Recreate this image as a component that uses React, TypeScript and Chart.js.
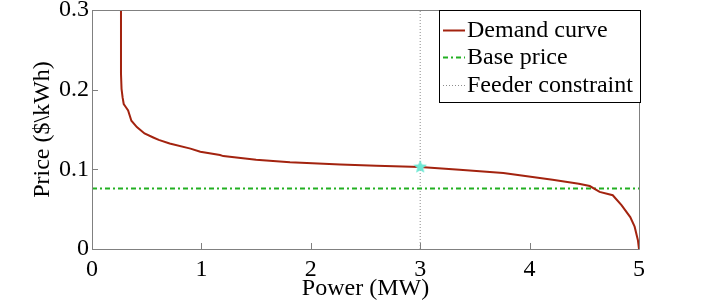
import React, { useEffect, useRef } from "react";
import { Chart, registerables } from "chart.js";

Chart.register(...registerables);

const demandX = [0.265, 0.265, 0.27, 0.28, 0.29, 0.31, 0.33, 0.36, 0.41, 0.48, 0.56, 0.61, 0.71, 0.9, 0.99, 1.17, 1.2, 1.5, 1.81, 2.27, 2.6, 3.0, 3.36, 3.76, 3.91, 4.21, 4.45, 4.55, 4.64, 4.76, 4.84, 4.92, 4.96, 4.99, 5.0];
const demandY = [0.3, 0.22, 0.201, 0.19, 0.182, 0.178, 0.174, 0.161, 0.153, 0.145, 0.14, 0.137, 0.1325, 0.126, 0.122, 0.118, 0.1166, 0.112, 0.109, 0.106, 0.1045, 0.103, 0.0996, 0.0954, 0.0925, 0.087, 0.082, 0.079, 0.0717, 0.0675, 0.055, 0.04, 0.028, 0.011, 0.0];
const basePriceX = [0, 5];
const basePriceY = [0.076, 0.076];
const feederX = [3, 3];
const feederY = [0, 0.3];
const operatingPoint = { x: 3, y: 0.103 };
const seriesLabels = ["Demand curve", "Base price", "Feeder constraint"];
const xTicks = [0, 1, 2, 3, 4, 5];
const yTicks = [0, 0.1, 0.2, 0.3];

const FONT = "Liberation Serif";
const FONT_SIZE = 24;
const AXIS_COLOR = "#808080";
const STAR_COLOR = "#6fe8d4";

const zip = (xs: number[], ys: number[]) => xs.map((x, i) => ({ x, y: ys[i] }));

function makeStar(size: number, color: string) {
  const c = document.createElement("canvas");
  c.width = size;
  c.height = size;
  const g = c.getContext("2d") as CanvasRenderingContext2D;
  const cx = size / 2;
  const cy = size / 2;
  const ro = size / 2;
  const ri = ro * 0.45;
  g.beginPath();
  for (let i = 0; i < 10; i++) {
    const r = i % 2 === 0 ? ro : ri;
    const a = -Math.PI / 2 + (i * Math.PI) / 5;
    const px = cx + r * Math.cos(a);
    const py = cy + r * Math.sin(a);
    if (i === 0) g.moveTo(px, py);
    else g.lineTo(px, py);
  }
  g.closePath();
  g.fillStyle = color;
  g.fill();
  return c;
}

const framePlugin = {
  id: "frameAndLegend",
  afterDraw(chart: any) {
    const { ctx, chartArea } = chart;
    const xs = chart.scales.x;
    const ys = chart.scales.y;
    ctx.save();
    ctx.strokeStyle = AXIS_COLOR;
    ctx.lineWidth = 1;
    ctx.beginPath();
    ctx.rect(Math.round(chartArea.left) + 0.5, Math.round(chartArea.top) + 0.5, Math.round(chartArea.right - chartArea.left), Math.round(chartArea.bottom - chartArea.top));
    ctx.stroke();
    ctx.beginPath();
    xTicks.forEach((v) => {
      const px = Math.round(xs.getPixelForValue(v)) + 0.5;
      ctx.moveTo(px, chartArea.bottom);
      ctx.lineTo(px, chartArea.bottom - 6);
    });
    yTicks.forEach((v) => {
      const py = Math.round(ys.getPixelForValue(v)) + 0.5;
      ctx.moveTo(chartArea.left, py);
      ctx.lineTo(chartArea.left + 6, py);
    });
    ctx.stroke();

    const w = 201;
    const h = 92;
    const right = Math.round(chartArea.right) + 1;
    const top = Math.round(chartArea.top);
    const left = right - w;
    ctx.fillStyle = "#ffffff";
    ctx.fillRect(left, top, w, h);
    ctx.strokeStyle = "#000000";
    ctx.strokeRect(left + 0.5, top + 0.5, w, h);
    const rows = [20, 47, 75];
    ctx.font = `${FONT_SIZE}px "${FONT}"`;
    ctx.textBaseline = "middle";
    ctx.textAlign = "left";
    [0, 1, 2].forEach((i) => {
      const ds = chart.data.datasets[i];
      const y = top + rows[i];
      ctx.save();
      ctx.strokeStyle = ds.borderColor;
      ctx.lineWidth = ds.borderWidth;
      ctx.setLineDash(ds.borderDash || []);
      ctx.beginPath();
      ctx.moveTo(left + 4, Math.round(y) + 0.5);
      ctx.lineTo(left + 26, Math.round(y) + 0.5);
      ctx.stroke();
      ctx.restore();
      ctx.fillStyle = "#000000";
      ctx.fillText(ds.label, left + 28, y + 1);
    });
    ctx.restore();
  },
};

export default function App() {
  const ref = useRef<HTMLCanvasElement>(null);
  useEffect(() => {
    document.body.style.margin = "0";
    const star = makeStar(14, STAR_COLOR);
    const chart = new Chart(ref.current as HTMLCanvasElement, {
      type: "scatter",
      data: {
        datasets: [
          {
            label: seriesLabels[0],
            data: zip(demandX, demandY),
            showLine: true,
            borderColor: "#a3230f",
            borderWidth: 2,
            pointRadius: 0,
            tension: 0,
          },
          {
            label: seriesLabels[1],
            data: zip(basePriceX, basePriceY),
            showLine: true,
            borderColor: "#22b022",
            borderWidth: 2,
            borderDash: [5, 3, 2, 3],
            pointRadius: 0,
          },
          {
            label: seriesLabels[2],
            data: zip(feederX, feederY),
            showLine: true,
            borderColor: "#8c8c8c",
            borderWidth: 1,
            borderDash: [1, 2],
            pointRadius: 0,
          },
          {
            label: "point",
            data: [operatingPoint],
            order: -1,
            pointStyle: star as any,
            pointRadius: 7,
            borderColor: STAR_COLOR,
            backgroundColor: STAR_COLOR,
          },
        ],
      },
      options: {
        animation: false,
        responsive: false,
        maintainAspectRatio: false,
        layout: { padding: { top: 10, right: 67, left: 0, bottom: 0 } },
        plugins: { legend: { display: false }, tooltip: { enabled: false } },
        scales: {
          x: {
            type: "linear",
            min: 0,
            max: 5,
            afterFit: (s: any) => { s.height = 55; s.paddingLeft = 0; s.paddingRight = 0; },
            afterBuildTicks: (s: any) => { s.ticks = xTicks.map((v) => ({ value: v })); },
            grid: { display: false, drawTicks: false },
            border: { display: false },
            ticks: { color: "#000", font: { family: FONT, size: FONT_SIZE }, padding: 6, callback: (v: any) => String(v) },
            title: { display: true, text: "Power (MW)", color: "#000", font: { family: FONT, size: FONT_SIZE }, padding: { top: 1, bottom: 1 } },
          },
          y: {
            type: "linear",
            min: 0,
            max: 0.3,
            afterFit: (s: any) => { s.width = 92; s.paddingTop = 0; s.paddingBottom = 0; },
            afterBuildTicks: (s: any) => { s.ticks = yTicks.map((v) => ({ value: v })); },
            grid: { display: false, drawTicks: false },
            border: { display: false },
            ticks: { color: "#000", font: { family: FONT, size: FONT_SIZE }, padding: 3, callback: (v: any) => (v === 0 ? "0" : Number(v).toFixed(1)) },
            title: { display: true, text: "Price ($\\kWh)", color: "#000", font: { family: FONT, size: FONT_SIZE }, padding: { top: 28, bottom: 28 } },
          },
        },
      },
      plugins: [framePlugin],
    });
    return () => chart.destroy();
  }, []);
  return <canvas ref={ref} width={706} height={304} style={{ display: "block" }} />;
}
